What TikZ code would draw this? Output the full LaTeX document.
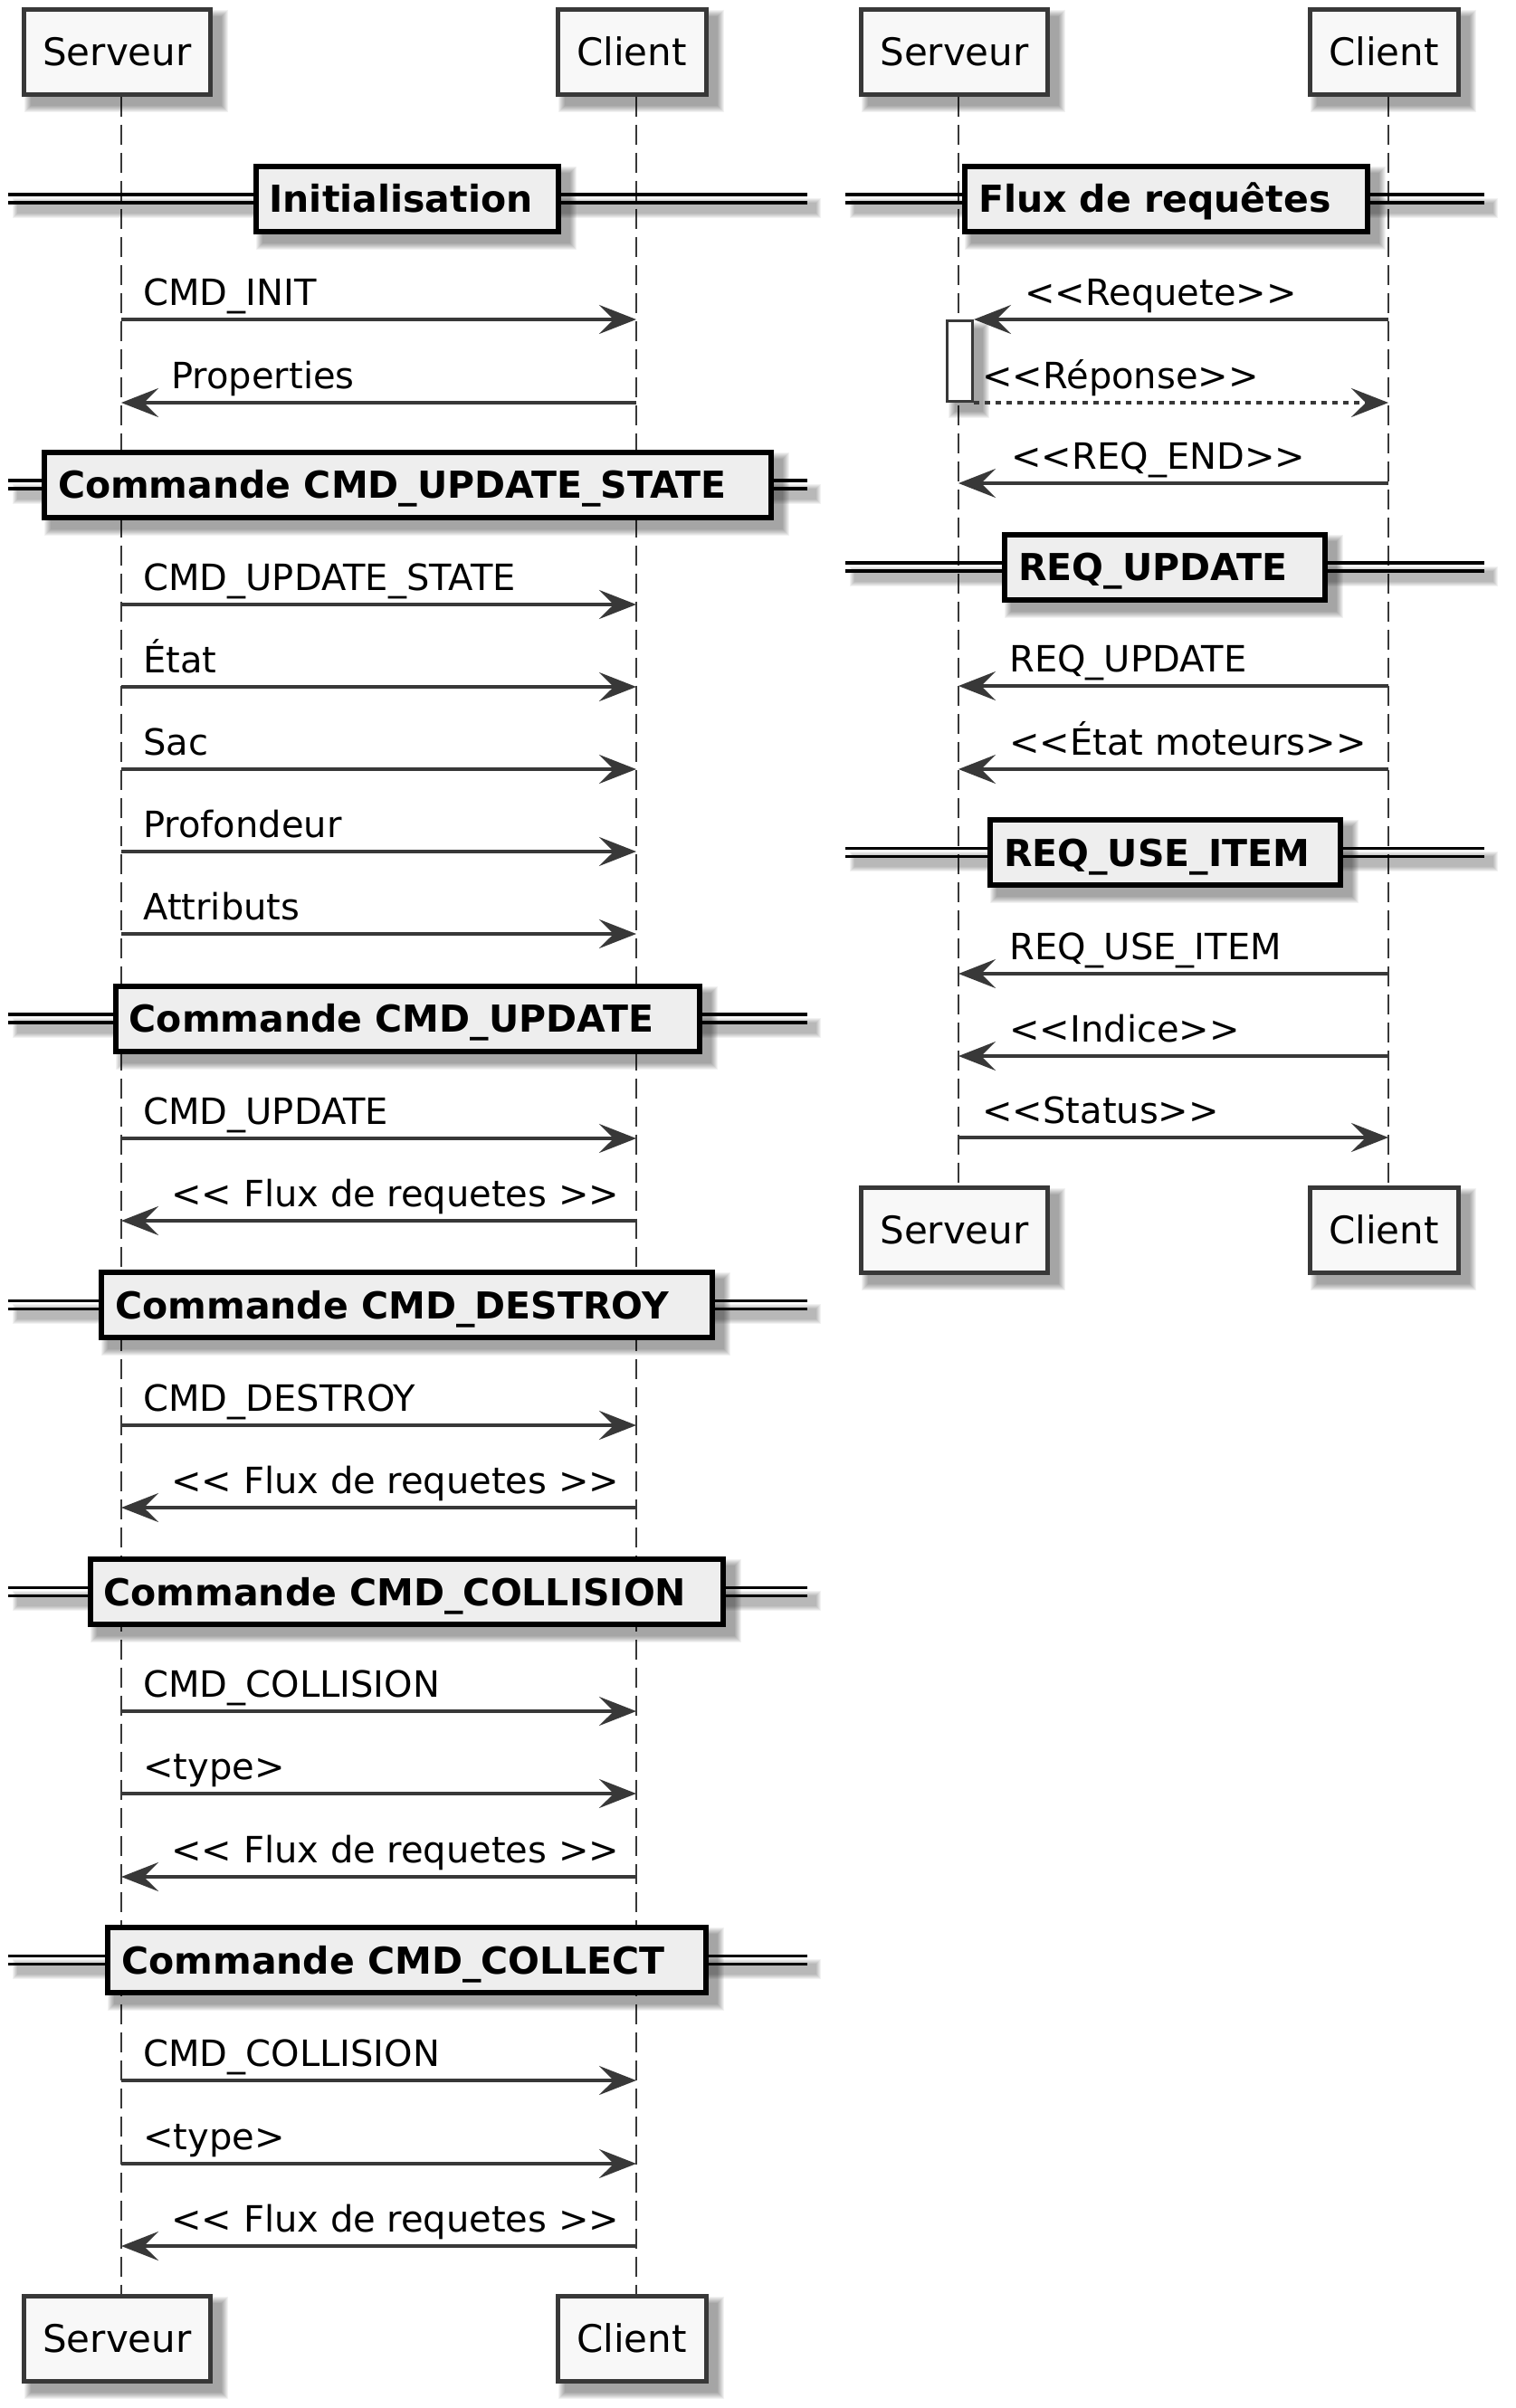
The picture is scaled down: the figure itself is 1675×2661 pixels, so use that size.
\documentclass[tikz,border=0pt]{standalone}
\usepackage{fontspec}
\newfontfamily\djv{DejaVu Sans}
\usetikzlibrary{arrows.meta}
\pgfdeclarelayer{back}
\pgfdeclarelayer{shadow}
\pgfsetlayers{back,shadow,main}
\definecolor{lnc}{HTML}{383838}
\definecolor{pfill}{HTML}{F8F8F8}
\definecolor{hfill}{HTML}{EEEEEE}
\newcommand\dlt{<\kern0pt<}
\newcommand\dgt{>\kern0pt>}
\tikzset{
  partbox/.style={draw=lnc, line width=2.5pt, fill=pfill, minimum height=47pt, inner sep=0pt,
    text height=15.2pt, text depth=0pt, font=\djv\fontsize{21pt}{25pt}\selectfont},
  hdrbox/.style={draw=black, line width=3pt, fill=hfill, minimum height=36pt, inner sep=0pt,
    text height=15pt, text depth=0pt, font=\djv\fontsize{20.5pt}{24pt}\selectfont\bfseries},
  lifeline/.style={draw=lnc, line width=1.4pt, dash pattern=on 11pt off 4.5pt},
  msg/.style={draw=lnc, line width=1.6pt, -{Stealth[length=20.5pt,width=16pt,inset=8pt]}},
  dottedmsg/.style={msg, dash pattern=on 3pt off 3pt},
  msgtext/.style={anchor=base west, inner sep=0pt, font=\djv\fontsize{20pt}{24pt}\selectfont},
  dline/.style={line width=1.75pt, draw=black},
  actbox/.style={draw=lnc, line width=1.5pt, fill=white, minimum width=14pt, minimum height=44.5pt, inner sep=0pt}
}
\newcommand\shadowof[1]{%
  \begin{pgfonlayer}{shadow}
  \foreach \k in {0,...,7}{%
    \fill[black,opacity=0.05] ([shift={(10-\k,10+\k)}]#1.south west) rectangle ([shift={(10+\k,10-\k)}]#1.north east);
  }%
  \end{pgfonlayer}}
% #1 name, #2 cx, #3 cy, #4 x1, #5 x2, #6 inner width (pt), #7 text
\newcommand\hdr[7]{%
  \begin{pgfonlayer}{shadow}
  \foreach \k in {0,...,5}{%
    \fill[black,opacity=0.05] ({#4+10-\k},{#3-6+10-\k}) rectangle ({#5+10+\k},{#3+6+10+\k});
  }%
  \end{pgfonlayer}
  \draw[dline] (#4,{#3-4.5}) -- (#5,{#3-4.5});
  \draw[dline] (#4,{#3+4.5}) -- (#5,{#3+4.5});
  \node[hdrbox] (#1) at (#2,#3) {\makebox[#6][l]{\hspace*{7.5pt}#7}};
  \shadowof{#1}}
\newcommand\msgto[5]{%
  \draw[msg] (#1 |- 0,#3) -- (#2 |- 0,#3);
  \node[msgtext] (m#3x#4) at (#4,{#3-16}) {#5};}
\begin{document}
\begin{tikzpicture}[x=0.5pt,y=-0.5pt]
\begin{pgfonlayer}{back}
\fill[white] (0,0) rectangle (1675,2661);
\end{pgfonlayer}
\useasboundingbox (0,0) rectangle (1675,2661);
\coordinate (S1) at (134,0);
\coordinate (C1) at (703,0);
\coordinate (S2) at (1059,0);
\coordinate (C2) at (1534,0);
% participants
\node[partbox, minimum width=103pt] (s1top) at (129.5,57) {Serveur};
\node[partbox, minimum width=82pt] (c1top) at (698,57) {Client};
\node[partbox, minimum width=103pt] (s1bot) at (129.5,2584.5) {Serveur};
\node[partbox, minimum width=82pt] (c1bot) at (698,2584.5) {Client};
\node[partbox, minimum width=103pt] (s2top) at (1054.5,57) {Serveur};
\node[partbox, minimum width=82pt] (c2top) at (1529,57) {Client};
\node[partbox, minimum width=103pt] (s2bot) at (1054.5,1359.5) {Serveur};
\node[partbox, minimum width=82pt] (c2bot) at (1529,1359.5) {Client};
\shadowof{s1top}\shadowof{c1top}\shadowof{s1bot}\shadowof{c1bot}
\shadowof{s2top}\shadowof{c2top}\shadowof{s2bot}\shadowof{c2bot}
% lifelines
\begin{pgfonlayer}{back}
\draw[lifeline] (s1top.south -| S1) -- (s1bot.north -| S1);
\draw[lifeline] (c1top.south -| C1) -- (c1bot.north -| C1);
\draw[lifeline] (s2top.south -| S2) -- (s2bot.north -| S2);
\draw[lifeline] (c2top.south -| C2) -- (c2bot.north -| C2);
\end{pgfonlayer}
% left diagram
\hdr{h1}{449.5}{219.5}{9}{892}{167pt}{Initialisation}
\msgto{S1}{C1}{353}{158}{CMD\_INIT}
\msgto{C1}{S1}{445}{189}{Properties}
\hdr{h2}{450.5}{535.5}{9}{892}{401.5pt}{Commande CMD\_UPDATE\_STATE}
\msgto{S1}{C1}{668}{158}{CMD\_UPDATE\_STATE}
\msgto{S1}{C1}{759}{158}{État}
\msgto{S1}{C1}{850}{158}{Sac}
\msgto{S1}{C1}{941}{158}{Profondeur}
\msgto{S1}{C1}{1032}{158}{Attributs}
\hdr{h3}{450.4}{1125.5}{9}{892}{322.5pt}{Commande CMD\_UPDATE}
\msgto{S1}{C1}{1258}{158}{CMD\_UPDATE}
\msgto{C1}{S1}{1349}{189}{\dlt{} Flux de requetes \dgt}
\hdr{h4}{449.8}{1442}{9}{892}{337.5pt}{Commande CMD\_DESTROY}
\msgto{S1}{C1}{1575}{158}{CMD\_DESTROY}
\msgto{C1}{S1}{1666}{189}{\dlt{} Flux de requetes \dgt}
\hdr{h5}{449}{1759}{9}{892}{349.5pt}{Commande CMD\_COLLISION}
\msgto{S1}{C1}{1891}{158}{CMD\_COLLISION}
\msgto{S1}{C1}{1982}{158}{<type>}
\msgto{C1}{S1}{2074}{189}{\dlt{} Flux de requetes \dgt}
\hdr{h6}{449.8}{2166}{9}{892}{330.5pt}{Commande CMD\_COLLECT}
\msgto{S1}{C1}{2299}{158}{CMD\_COLLISION}
\msgto{S1}{C1}{2391}{158}{<type>}
\msgto{C1}{S1}{2482}{189}{\dlt{} Flux de requetes \dgt}
% right diagram
\hdr{r1}{1288.5}{219.5}{934}{1640}{222.5pt}{Flux de requêtes}
\node[actbox] (act) at (1060.5,399) {};
\shadowof{act}
\draw[msg] (C2 |- act.north east) -- (act.north east);
\node[msgtext] (treq) at (1132,337) {\dlt{}Requete\dgt};
\draw[dottedmsg] (act.south east) -- (C2 |- act.south east);
\node[msgtext] (trep) at (1085,429) {\dlt{}Réponse\dgt};
\msgto{C2}{S2}{534}{1117}{\dlt{}REQ\_END\dgt}
\hdr{r2}{1287}{626.5}{934}{1640}{176.75pt}{REQ\_UPDATE}
\msgto{C2}{S2}{758}{1115}{REQ\_UPDATE}
\msgto{C2}{S2}{850}{1115}{\dlt{}État moteurs\dgt}
\hdr{r3}{1287.5}{942}{934}{1640}{193.5pt}{REQ\_USE\_ITEM}
\msgto{C2}{S2}{1076}{1115}{REQ\_USE\_ITEM}
\msgto{C2}{S2}{1167}{1115}{\dlt{}Indice\dgt}
\msgto{S2}{C2}{1257}{1085}{\dlt{}Status\dgt}
\end{tikzpicture}
\end{document}
